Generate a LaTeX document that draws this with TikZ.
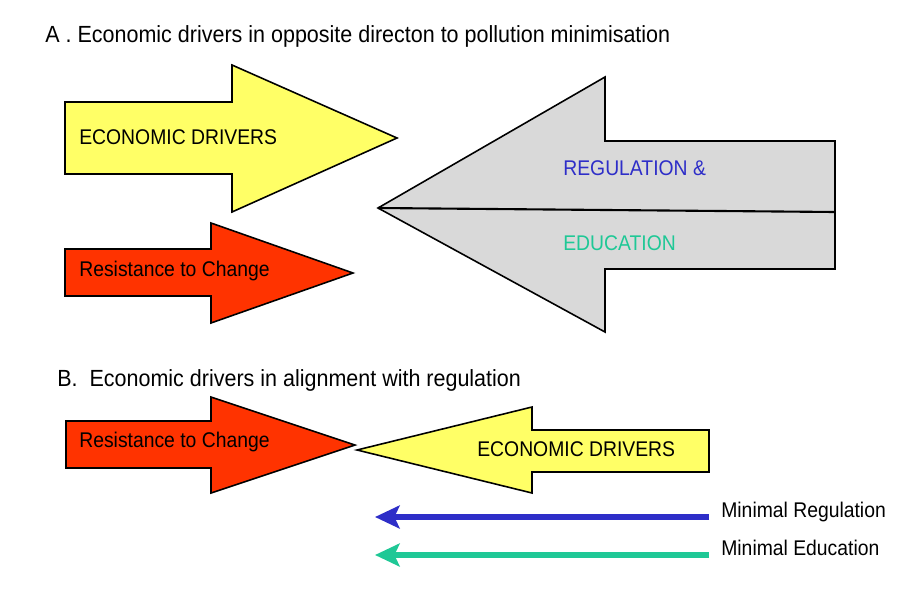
\documentclass[tikz,border=0pt]{standalone}
\usepackage{fontspec}
\setmainfont{Liberation Sans}
\usetikzlibrary{arrows.meta}
\definecolor{drvyellow}{HTML}{FFFF66}
\definecolor{resred}{HTML}{FF3300}
\definecolor{reggray}{HTML}{D9D9D9}
\definecolor{regblue}{HTML}{2E2EC8}
\definecolor{edugreen}{HTML}{1FC896}
\begin{document}
\begin{tikzpicture}[x=0.02cm,y=-0.02cm,
  blockarrow/.style={draw=black,line width=0.9pt,line join=miter},
  label/.style={inner sep=0pt,anchor=west,xscale=0.91,transform shape,
    font=\fontsize{12.1}{14}\selectfont},
  heading/.style={inner sep=0pt,anchor=west,xscale=0.92,transform shape,
    font=\fontsize{13.3}{15}\selectfont},
  legendarrow/.style={line width=3.4pt,-{Stealth[length=14pt,width=13pt,inset=3pt]}}]
\useasboundingbox (0,0) rectangle (908,588);
\fill[white] (0,0) rectangle (908,588);

% Part A
\node[heading] (titleA) at (45,36) {A . Economic drivers in opposite directon to pollution minimisation};

\draw[blockarrow,fill=drvyellow] (65,102) -- (232,102) -- (232,65) -- (397,138)
  -- (232,212) -- (232,174) -- (65,174) -- cycle;
\node[label] (econA) at (79,137) {ECONOMIC DRIVERS};

\draw[blockarrow,fill=resred] (65,249) -- (211,249) -- (211,223) -- (353,273)
  -- (211,323) -- (211,296) -- (65,296) -- cycle;
\node[label] (resA) at (79,271) {Resistance to Change};

\draw[blockarrow,fill=reggray] (835,141) -- (605,141) -- (605,77) -- (378,208)
  -- (605,332) -- (605,269) -- (835,269) -- cycle;
\draw[line width=1.2pt] (378,208) -- (835,212);
\node[label,text=regblue] (reg) at (563,168) {REGULATION \&};
\node[label,text=edugreen] (edu) at (563,243) {EDUCATION};

% Part B
\node[heading] (titleB) at (57,380) {B.\ \ Economic drivers in alignment with regulation};

\draw[blockarrow,fill=resred] (66,421) -- (211,421) -- (211,397) -- (355,445)
  -- (211,493) -- (211,468) -- (66,468) -- cycle;
\node[label] (resB) at (79,442) {Resistance to Change};

\draw[blockarrow,fill=drvyellow] (709,430) -- (532,430) -- (532,407) -- (357,450)
  -- (532,493) -- (532,472) -- (709,472) -- cycle;
\node[label] (econB) at (477,449) {ECONOMIC DRIVERS};

\coordinate (regStart) at (709,517);
\coordinate (regEnd) at (375,517);
\coordinate (eduStart) at (709,555);
\coordinate (eduEnd) at (375,555);
\draw[legendarrow,regblue] (regStart) -- (regEnd);
\draw[legendarrow,edugreen] (eduStart) -- (eduEnd);
\node[label] (minreg) at (721,512) {Minimal Regulation};
\node[label] (minedu) at (721,548) {Minimal Education};
\end{tikzpicture}
\end{document}
